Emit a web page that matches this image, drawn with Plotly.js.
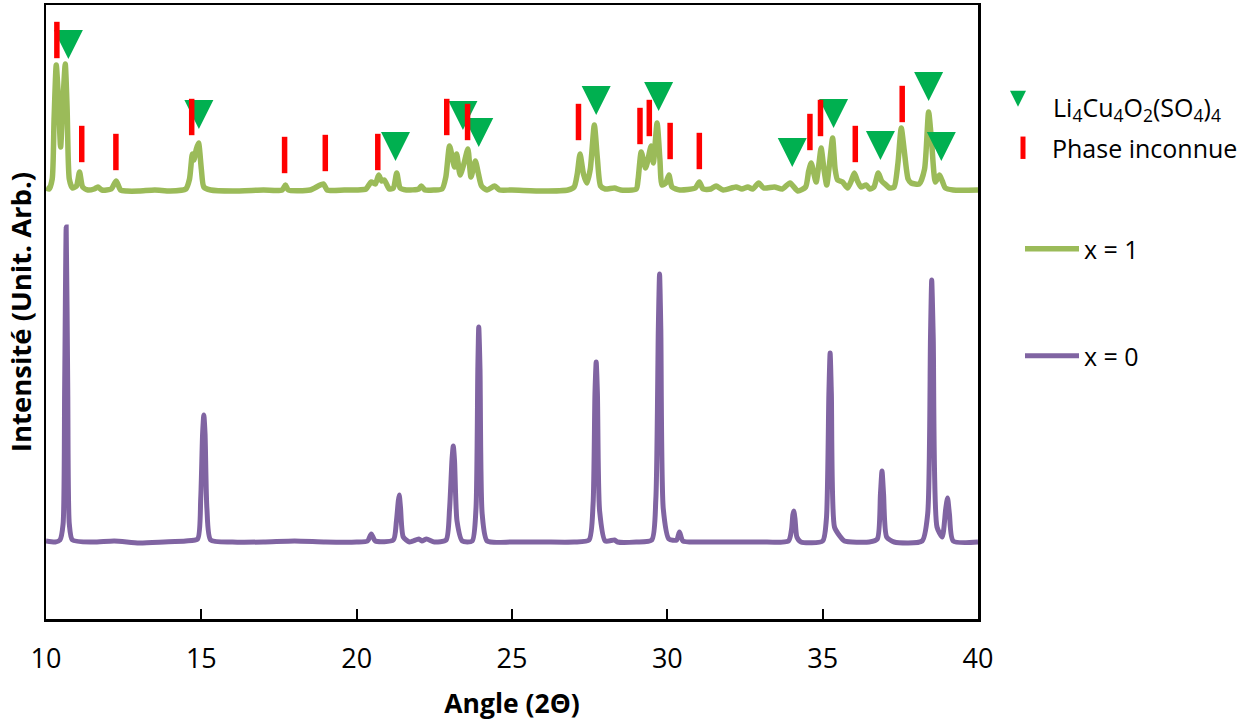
<!DOCTYPE html>
<html>
<head>
<meta charset="utf-8">
<script src="https://cdn.plot.ly/plotly-3.0.1.min.js"></script>
<style>
  html, body { margin: 0; padding: 0; background: #fff; }
  #chart { width: 1253px; height: 725px; }
</style>
</head>
<body>
<div id="chart"></div>
<script>
// ---- Data (angle in degrees 2θ, intensity in arbitrary units) ----
const angleX0 = [10.00,10.30,10.45,10.55,10.60,10.65,10.70,10.75,10.85,11.50,12.20,13.00,13.80,14.50,14.88,14.98,15.04,15.08,15.12,15.18,15.30,16.00,17.00,18.00,19.00,20.00,20.35,20.47,20.60,21.18,21.28,21.34,21.37,21.41,21.50,21.70,22.00,22.10,22.25,22.50,22.88,22.99,23.07,23.11,23.15,23.23,23.40,23.72,23.84,23.90,23.93,23.97,24.04,24.20,25.00,26.00,27.00,27.48,27.61,27.67,27.71,27.75,27.82,28.00,28.30,28.40,29.00,29.50,29.63,29.71,29.75,29.79,29.87,30.05,30.30,30.39,30.50,31.00,32.00,33.00,33.90,34.00,34.04,34.07,34.11,34.17,34.30,35.00,35.12,35.20,35.24,35.28,35.38,35.55,35.70,36.50,36.76,36.86,36.91,36.96,37.06,37.30,38.20,38.38,38.47,38.51,38.56,38.68,38.85,38.96,39.02,39.08,39.20,40.00];
const intensityX0 = [78,77,79,95,230,392,230,95,79,77,78,76,77,78,80,120,185,204,185,110,79,77,77,78,77,77,78,85,78,79,98,118,124,112,82,77,80,78,80,77,79,110,160,173,158,98,78,78,110,250,292,250,105,78,77,77,77,79,115,225,257,225,108,78,79,77,77,79,120,290,345,290,110,80,79,87,78,77,77,77,78,90,104,108,100,82,77,78,100,225,266,225,92,83,78,77,80,125,148,125,82,77,78,105,280,339,280,92,82,110,121,105,78,77];

const angleX1 = [10.00,10.10,10.20,10.26,10.33,10.40,10.47,10.55,10.62,10.68,10.75,10.85,10.98,11.08,11.18,11.35,11.55,11.67,11.80,12.10,12.26,12.40,12.60,13.00,13.50,14.00,14.50,14.62,14.71,14.76,14.84,14.91,15.00,15.08,15.30,16.00,17.00,17.60,17.71,17.80,18.50,18.93,19.05,19.60,20.00,20.30,20.47,20.60,20.71,20.80,20.89,21.05,21.18,21.29,21.40,21.60,22.00,22.08,22.20,22.50,22.75,22.87,22.99,23.15,23.22,23.33,23.45,23.58,23.68,23.82,23.92,24.02,24.20,24.44,24.60,25.00,26.00,26.80,27.00,27.10,27.19,27.30,27.41,27.52,27.65,27.75,27.85,28.00,28.30,28.50,29.00,29.06,29.16,29.30,29.48,29.55,29.67,29.76,29.83,29.95,30.05,30.15,30.40,30.90,31.03,31.15,31.40,31.57,31.80,32.21,32.40,32.59,32.75,32.94,33.10,33.45,33.70,33.95,34.20,34.45,34.55,34.63,34.72,34.79,34.88,34.95,35.04,35.13,35.22,35.32,35.40,35.48,35.64,35.80,35.92,36.02,36.12,36.23,36.40,36.52,36.65,36.79,36.90,37.04,37.15,37.30,37.42,37.53,37.62,37.75,37.85,38.11,38.28,38.41,38.50,38.63,38.76,38.85,38.95,39.20,40.00];
const intensityX1 = [431,430,440,500,554,520,472,520,555,510,440,431,433,447,432,429,430,432,429,430,438,429,428,428,429,428,430,440,465,459,470,476,450,432,429,428,429,429,434,429,429,435,429,429,429,430,437,435,444,438,439,430,431,446,431,429,430,433,429,429,430,442,473,452,465,444,455,470,442,458,445,433,429,433,429,429,428,429,432,445,465,445,436,450,494,460,433,430,431,429,430,440,467,451,473,456,496,460,434,436,444,432,429,431,437,430,430,433,429,432,430,432,430,436,431,432,430,436,428,432,448,456,445,437,455,471,450,434,455,481,450,439,437,431,438,446,438,432,434,430,432,446,438,434,431,432,455,491,470,440,436,435,450,507,480,437,444,438,431,429,429];

// Li4Cu4O2(SO4)4 reflections (triangles, level = tip of the marker)
const triAngle = [10.72,14.92,21.25,23.42,23.93,27.71,29.72,34.02,35.35,36.86,38.41,38.82];
const triLevel = [560,490,458,489,472,504,508,452,491,459,518,458];

// Unknown phase reflections (red bars, level = centre of the bar)
const phaseAngle = [10.35,11.15,12.25,14.69,17.68,18.99,20.68,22.90,23.57,27.14,29.12,29.42,30.09,31.03,34.59,34.93,36.05,37.56];
const phaseLevel = [579,475,467,502,464,466,467,502,497,497,493,501,478,468,487,501,475,515];

const xTicks = [10,15,20,25,30,35,40];
const names = {
  tri: 'Li<sub>4</sub>Cu<sub>4</sub>O<sub>2</sub>(SO<sub>4</sub>)<sub>4</sub>',
  phase: 'Phase inconnue',
  x1: 'x = 1',
  x0: 'x = 0'
};

const FONT = '"Open Sans", "Liberation Sans", sans-serif';

const traces = [
  {
    x: angleX0, y: intensityX0, type: 'scatter', mode: 'lines', name: names.x0,
    line: {color: '#8064A2', width: 5, shape: 'spline', smoothing: 0.6}, legend: 'legend4'
  },
  {
    x: angleX1, y: intensityX1, type: 'scatter', mode: 'lines', name: names.x1,
    line: {color: '#9BBB59', width: 5.5, shape: 'spline', smoothing: 0.6}, legend: 'legend3'
  },
  {
    x: triAngle, y: triLevel, type: 'scatter', mode: 'markers', name: names.tri,
    marker: {symbol: 'arrow-down', size: 29, color: '#00B050', line: {width: 0}},
    legend: 'legend'
  },
  {
    x: phaseAngle, y: phaseLevel, type: 'scatter', mode: 'markers', name: names.phase,
    marker: {symbol: 'line-ns', size: 26, color: '#FF0000', line: {color: '#FF0000', width: 5.5}},
    legend: 'legend2'
  }
];

function px2paperX(p) { return (p - 46) / 932; }
function px2paperY(p) { return (619 - p) / 614; }

const legendBase = {
  xanchor: 'left', yanchor: 'middle', bgcolor: 'rgba(0,0,0,0)', borderwidth: 0,
  font: {family: FONT, size: 25, color: '#000'}
};

const layout = {
  width: 1253, height: 725,
  margin: {l: 46, r: 275, t: 5, b: 106},
  paper_bgcolor: '#fff', plot_bgcolor: '#fff',
  font: {family: FONT, color: '#000'},
  showlegend: true,
  xaxis: {
    range: [10, 40], tickvals: xTicks, ticktext: xTicks.map(String),
    ticks: 'inside', ticklen: 10, tickwidth: 2, tickcolor: '#000',
    showline: true, linewidth: 2.5, linecolor: '#000', mirror: true,
    showgrid: false, zeroline: false, ticklabelstandoff: 14,
    tickfont: {family: FONT, size: 27, color: '#000'},
    title: {text: 'Angle (2Θ)', font: {family: FONT, size: 26.5, color: '#000', weight: 700}, standoff: 20}
  },
  yaxis: {
    range: [0, 614], showticklabels: false, ticks: '',
    showline: true, linewidth: 2.5, linecolor: '#000', mirror: true,
    showgrid: false, zeroline: false,
    title: {text: 'Intensité (Unit. Arb.)', font: {family: FONT, size: 27.5, color: '#000', weight: 700}, standoff: 4}
  },
  legend: Object.assign({}, legendBase, {x: px2paperX(983), y: px2paperY(107), itemwidth: 60}),
  legend2: Object.assign({}, legendBase, {x: px2paperX(994), y: px2paperY(148), itemwidth: 48}),
  legend3: Object.assign({}, legendBase, {x: px2paperX(1020), y: px2paperY(249), itemwidth: 54}),
  legend4: Object.assign({}, legendBase, {x: px2paperX(1020), y: px2paperY(356), itemwidth: 54})
};

Plotly.newPlot('chart', traces, layout, {displayModeBar: false, staticPlot: true});
</script>
</body>
</html>
